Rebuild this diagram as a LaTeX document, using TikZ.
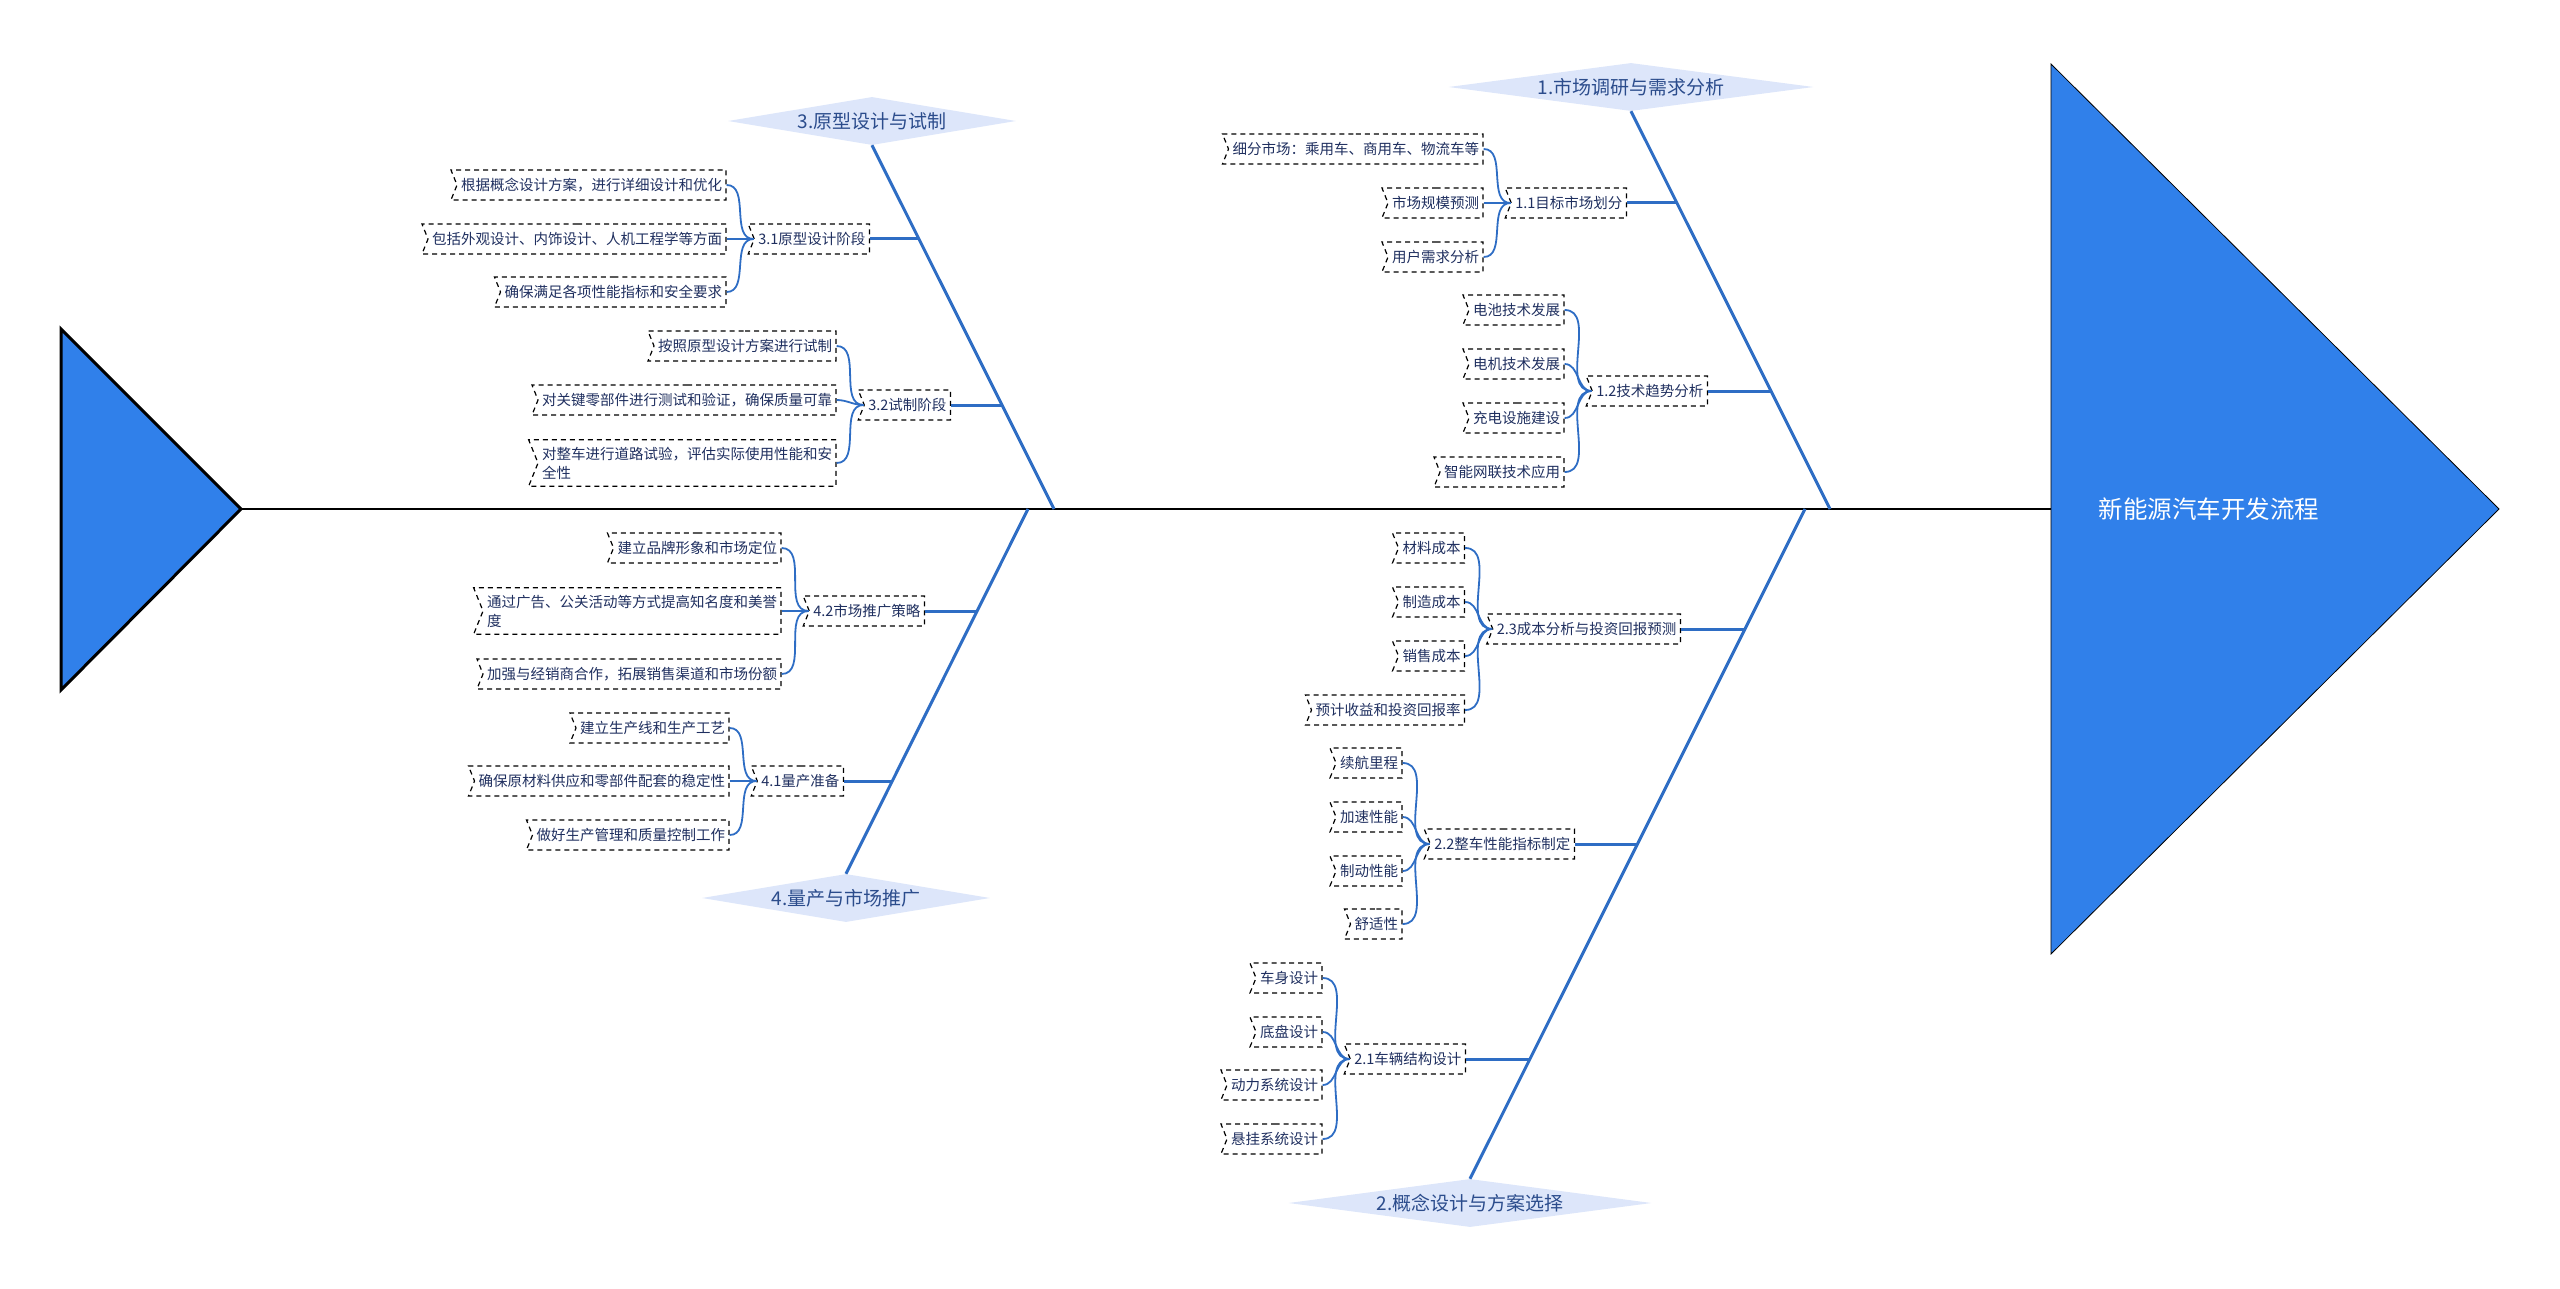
\documentclass[tikz,border=0pt]{standalone}
\usepackage{fontspec}
\setmainfont{Noto Sans CJK SC}
\usepackage{tikz}
\usetikzlibrary{shapes.geometric,shapes.symbols,positioning}
\definecolor{headblue}{HTML}{3080EA}
\definecolor{boneblue}{HTML}{2E6DC4}
\definecolor{diafill}{HTML}{DDE6FA}
\definecolor{diatext}{HTML}{2B4C8C}
\definecolor{leaftext}{HTML}{1F2F5F}

\begin{document}
\begin{tikzpicture}[x=1pt,y=-1pt,
  leaf/.style={shape=signal,signal from=west,signal to=nowhere,signal pointer angle=136,draw=black,line width=1.2pt,dash pattern=on 5pt off 4pt,text=leaftext,font=\fontsize{14.5}{19}\selectfont,minimum height=30pt,inner xsep=4pt,inner ysep=7pt,align=left},
  diam/.style={shape=diamond,fill=diafill,aspect=7,inner sep=0pt,minimum height=48pt,text=diatext,font=\fontsize{19}{22}\selectfont},
  bone/.style={draw=boneblue,line width=3pt},
  twig/.style={draw=boneblue,line width=1.8pt}]
\useasboundingbox (0,0) rectangle (2560,1289);

\coordinate (tailtip) at (241,509);
\coordinate (headbase) at (2051,509);
\filldraw[fill=headblue,draw=black,line width=3pt] (61,329) -- (tailtip) -- (61,690) -- cycle;
\draw[line width=2.6pt] (tailtip) -- (headbase);
\filldraw[fill=headblue,draw=black,line width=0.8pt] (2051,64) -- (2499,509) -- (2051,954) -- cycle;
\node[text=white,font=\fontsize{24.5}{28}\selectfont] (head) at (2209,509) {新能源汽车开发流程};

\node[diam,minimum width=365pt] (m1) at (1631,87) {1.市场调研与需求分析};
\node[diam,minimum width=363pt] (m2) at (1470,1203) {2.概念设计与方案选择};
\node[diam,minimum width=288pt] (m3) at (872,121) {3.原型设计与试制};
\node[diam,minimum width=288pt] (m4) at (846,898) {4.量产与市场推广};
\coordinate (f1) at (1830,509);
\coordinate (f2) at (1805,509);
\coordinate (f3) at (1054,509);
\coordinate (f4) at (1028,509);
\draw[bone] (m1.south) -- (f1);
\draw[bone] (m2.north) -- (f2);
\draw[bone] (m3.south) -- (f3);
\draw[bone] (m4.north) -- (f4);

\coordinate (j11) at (1677,203);
\coordinate (j12) at (1771,391);
\coordinate (j21) at (1530,1059);
\coordinate (j22) at (1637,844);
\coordinate (j23) at (1745,629);
\coordinate (j31) at (919,239);
\coordinate (j32) at (1002,405);
\coordinate (j41) at (892,781);
\coordinate (j42) at (977,611);

\node[leaf,anchor=east] (p11) at (1627,203) {1.1目标市场划分};
\node[leaf,left=27pt of p11,yshift=54pt] (c111) {细分市场：乘用车、商用车、物流车等};
\node[leaf,left=27pt of p11] (c112) {市场规模预测};
\node[leaf,left=27pt of p11,yshift=-54pt] (c113) {用户需求分析};

\node[leaf,anchor=east] (p12) at (1708,391) {1.2技术趋势分析};
\node[leaf,left=27pt of p12,yshift=81pt] (c121) {电池技术发展};
\node[leaf,left=27pt of p12,yshift=27pt] (c122) {电机技术发展};
\node[leaf,left=27pt of p12,yshift=-27pt] (c123) {充电设施建设};
\node[leaf,left=27pt of p12,yshift=-81pt] (c124) {智能网联技术应用};

\node[leaf,anchor=east] (p23) at (1681,629) {2.3成本分析与投资回报预测};
\node[leaf,left=27pt of p23,yshift=81pt] (c231) {材料成本};
\node[leaf,left=27pt of p23,yshift=27pt] (c232) {制造成本};
\node[leaf,left=27pt of p23,yshift=-27pt] (c233) {销售成本};
\node[leaf,left=27pt of p23,yshift=-81pt] (c234) {预计收益和投资回报率};

\node[leaf,anchor=east] (p22) at (1575,844) {2.2整车性能指标制定};
\node[leaf,left=27pt of p22,yshift=81pt] (c221) {续航里程};
\node[leaf,left=27pt of p22,yshift=27pt] (c222) {加速性能};
\node[leaf,left=27pt of p22,yshift=-27pt] (c223) {制动性能};
\node[leaf,left=27pt of p22,yshift=-80pt] (c224) {舒适性};

\node[leaf,anchor=east] (p21) at (1466,1059) {2.1车辆结构设计};
\node[leaf,left=27pt of p21,yshift=81pt] (c211) {车身设计};
\node[leaf,left=27pt of p21,yshift=27pt] (c212) {底盘设计};
\node[leaf,left=27pt of p21,yshift=-26pt] (c213) {动力系统设计};
\node[leaf,left=27pt of p21,yshift=-80pt] (c214) {悬挂系统设计};

\node[leaf,anchor=east] (p31) at (870,239) {3.1原型设计阶段};
\node[leaf,left=27pt of p31,yshift=54pt] (c311) {根据概念设计方案，进行详细设计和优化};
\node[leaf,left=27pt of p31] (c312) {包括外观设计、内饰设计、人机工程学等方面};
\node[leaf,left=27pt of p31,yshift=-53pt] (c313) {确保满足各项性能指标和安全要求};

\node[leaf,anchor=east] (p32) at (951,405) {3.2试制阶段};
\node[leaf,left=27pt of p32,yshift=59pt] (c321) {按照原型设计方案进行试制};
\node[leaf,left=27pt of p32,yshift=5pt] (c322) {对关键零部件进行测试和验证，确保质量可靠};
\node[leaf,left=27pt of p32,yshift=-58pt] (c323) {对整车进行道路试验，评估实际使用性能和安\\全性};

\node[leaf,anchor=east] (p42) at (925,611) {4.2市场推广策略};
\node[leaf,left=27pt of p42,yshift=63pt] (c421) {建立品牌形象和市场定位};
\node[leaf,left=27pt of p42] (c422) {通过广告、公关活动等方式提高知名度和美誉\\度};
\node[leaf,left=27pt of p42,yshift=-63pt] (c423) {加强与经销商合作，拓展销售渠道和市场份额};

\node[leaf,anchor=east] (p41) at (844,781) {4.1量产准备};
\node[leaf,left=27pt of p41,yshift=53pt] (c411) {建立生产线和生产工艺};
\node[leaf,left=27pt of p41] (c412) {确保原材料供应和零部件配套的稳定性};
\node[leaf,left=27pt of p41,yshift=-54pt] (c413) {做好生产管理和质量控制工作};

\foreach \p in {11,12,21,22,23,31,32,41,42}
  \draw[bone] (p\p.east) -- (j\p);
\foreach \p/\n in {11/3,12/4,21/4,22/4,23/4,31/3,32/3,41/3,42/3}
  \foreach \k in {1,...,\n}
    \draw[twig] (c\p\k.east) to[out=0,in=180] (p\p.west);
\end{tikzpicture}
\end{document}
